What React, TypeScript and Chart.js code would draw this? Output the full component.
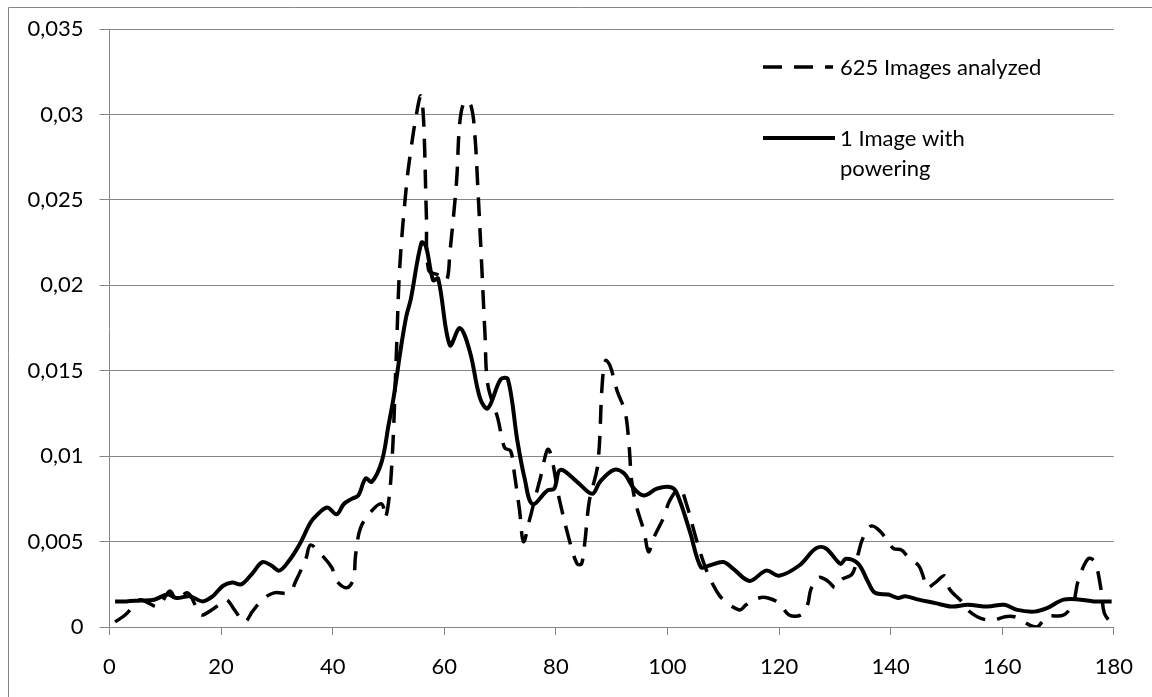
import React, { useEffect, useRef } from "react";
import { Chart, registerables } from "chart.js";

Chart.register(...registerables);

// ---- Data ----
const seriesNames = ["625 Images analyzed", "1 Image with", "powering"];

const dashedX = [
  1, 2.8, 4.5, 5.5, 7, 8.7, 10.8, 12, 14, 15.5, 16.5, 18.3, 20, 21, 22.4, 24.2, 25.6, 27.4, 29.5, 32.2,
  33.4, 35.2, 36, 37.5, 39.8, 40.7, 42.5, 43.7, 44.1, 45, 47, 48.8, 49.5, 50.5, 51.4, 52, 53.2, 54, 55,
  55.8, 56.3, 56.8, 57.2, 59, 60.4, 61, 62.2, 62.8, 63.7, 64.8, 65.5, 66, 66.6, 67.3, 67.8, 69.6, 70.8,
  71.9, 72.6, 73.5, 74.2, 75.3, 77.2, 78.7, 80.6, 82.4, 83.8, 84.6, 85.2, 86, 87.5, 88.3, 88.9, 89.7,
  91, 92.4, 93.1, 93.6, 94.5, 95.8, 96.6, 97.5, 99.3, 100.4, 102.2, 103.4, 105.2, 107, 108.8, 110,
  112.9, 114.1, 116.4, 118, 120, 121.8, 123.9, 125.1, 125.7, 127.1, 128.7, 130.1, 131.3, 133.1, 134.2,
  134.9, 136.4, 137.8, 139.6, 140.5, 142, 143.1, 145, 145.8, 146.5, 148, 149.7, 150.6, 152.7, 153.8,
  155.5, 157.4, 158.6, 160.5, 162.2, 163.4, 165, 166.3, 168, 171, 172.7, 173.6, 175.4, 176.6, 177.7,
  178.3, 179.6,
];
const dashedY = [
  0.0003, 0.0007, 0.0013, 0.0016, 0.0014, 0.0012, 0.0021, 0.0016, 0.002, 0.0012, 0.0007, 0.001, 0.0014,
  0.0016, 0.001, 0.0003, 0.0009, 0.0016, 0.002, 0.002, 0.0027, 0.004, 0.0048, 0.0044, 0.0035, 0.0027,
  0.0023, 0.0028, 0.0042, 0.0058, 0.0068, 0.0072, 0.0064, 0.009, 0.0159, 0.021, 0.0258, 0.0279, 0.03,
  0.0311, 0.0296, 0.024, 0.0209, 0.0206, 0.0203, 0.0219, 0.0261, 0.0296, 0.0308, 0.0305, 0.0287,
  0.0258, 0.0219, 0.0171, 0.0142, 0.0122, 0.0105, 0.0103, 0.0089, 0.0068, 0.005, 0.0063, 0.0087,
  0.0104, 0.0075, 0.0051, 0.0037, 0.0037, 0.005, 0.0074, 0.0095, 0.0142, 0.0156, 0.0153, 0.0138,
  0.0126, 0.0107, 0.0085, 0.007, 0.0056, 0.0044, 0.0052, 0.0064, 0.0074, 0.0081, 0.0072, 0.0051,
  0.0033, 0.0021, 0.0016, 0.001, 0.0013, 0.0017, 0.0017, 0.0014, 0.0007, 0.0007, 0.0013, 0.0022,
  0.0029, 0.0027, 0.0023, 0.0028, 0.0031, 0.0043, 0.0051, 0.0059, 0.0057, 0.005, 0.0046, 0.0045,
  0.0041, 0.0036, 0.003, 0.0023, 0.0026, 0.003, 0.0022, 0.0015, 0.001, 0.0006, 0.0004, 0.0004,
  0.0006, 0.0006, 0.0004, 0.0001, 0.0, 0.0006, 0.0007, 0.0014, 0.0027, 0.004, 0.0038, 0.0022,
  0.0008, 0.0002,
];

const solidX = [
  1, 3, 5.5, 8, 10.4, 12, 14.4, 16.7, 18.5, 20.3, 22, 23.6, 25.5, 27.4, 29, 30.4, 32, 34, 36, 37, 39,
  40.7, 42, 43.4, 44.6, 45.9, 47, 48.8, 50, 50.9, 52.3, 53.2, 54, 55.9, 56.7, 58, 58.9, 61, 62.8, 64.6,
  66.4, 67.8, 70.1, 71.4, 73.1, 74.4, 75.8, 78.5, 79.7, 80.8, 83.8, 86.5, 87.9, 90.4, 92.2, 94, 95.8,
  98.1, 100.4, 101.6, 104, 106, 107.5, 110, 111.8, 114.7, 117.7, 120, 123.6, 126.6, 128.4, 131, 132,
  134.2, 136, 137.2, 139.6, 141.3, 142.6, 145, 148, 150.9, 153.8, 157.4, 160.4, 162.7, 165.7, 168,
  171, 174, 176.4, 179.6,
];
const solidY = [
  0.0015, 0.0015, 0.00155, 0.0016, 0.0019, 0.0017, 0.0018, 0.0015, 0.0018, 0.0024, 0.0026, 0.0025,
  0.0031, 0.0038, 0.0036, 0.0033, 0.0038, 0.0048, 0.0061, 0.0065, 0.007, 0.0066, 0.0072, 0.0075,
  0.0077, 0.0087, 0.0085, 0.0097, 0.0118, 0.0134, 0.0165, 0.0182, 0.0192, 0.0225, 0.0223, 0.0203,
  0.0204, 0.0165, 0.0175, 0.0161, 0.0134, 0.0128, 0.0145, 0.0145, 0.0109, 0.0087, 0.0072, 0.008,
  0.0081, 0.0092, 0.0085, 0.0078, 0.0085, 0.0092, 0.009, 0.0081, 0.0077, 0.0081, 0.0082, 0.0079,
  0.0056, 0.0035, 0.0036, 0.0038, 0.0034, 0.0027, 0.0033, 0.003, 0.0036, 0.0046, 0.0046, 0.0037,
  0.004, 0.0037, 0.0026, 0.002, 0.0019, 0.0017, 0.0018, 0.0016, 0.0014, 0.0012, 0.0013, 0.0012,
  0.0013, 0.001, 0.0009, 0.0011, 0.0016, 0.0016, 0.0015, 0.0015,
];

const xTickValues = [0, 20, 40, 60, 80, 100, 120, 140, 160, 180];
const yTickValues = [0, 0.005, 0.01, 0.015, 0.02, 0.025, 0.03, 0.035];
const yTickLabels = ["0", "0,005", "0,01", "0,015", "0,02", "0,025", "0,03", "0,035"];

const FONT = "Lato";
const GRID = "#868686";

const framePlugin = {
  id: "frame",
  beforeDraw(chart: any) {
    const ctx = chart.ctx;
    ctx.save();
    ctx.strokeStyle = GRID;
    ctx.lineWidth = 1;
    ctx.beginPath();
    ctx.moveTo(8.5, chart.height);
    ctx.lineTo(8.5, 7.5);
    ctx.lineTo(chart.width, 7.5);
    ctx.stroke();
    ctx.restore();
  },
};

const legendPlugin = {
  id: "customLegend",
  afterDraw(chart: any) {
    const ctx = chart.ctx;
    const ds = chart.data.datasets;
    ctx.save();
    // dashed entry
    ctx.strokeStyle = "#000";
    ctx.lineWidth = ds[0].borderWidth;
    ctx.setLineDash(ds[0].borderDash);
    ctx.beginPath();
    ctx.moveTo(763, 67);
    ctx.lineTo(833, 67);
    ctx.stroke();
    // solid entry
    ctx.setLineDash([]);
    ctx.lineWidth = ds[1].borderWidth;
    ctx.beginPath();
    ctx.moveTo(763, 138);
    ctx.lineTo(835, 138);
    ctx.stroke();
    ctx.fillStyle = "#000";
    ctx.font = `22px ${FONT}`;
    ctx.textBaseline = "middle";
    ctx.textAlign = "left";
    ctx.fillText(seriesNames[0], 840, 68);
    ctx.fillText(seriesNames[1], 840, 139);
    ctx.fillText(seriesNames[2], 840, 169);
    ctx.restore();
  },
};

export default function App() {
  const ref = useRef<HTMLCanvasElement | null>(null);

  useEffect(() => {
    if (!ref.current) return;
    const chart = new Chart(ref.current, {
      type: "line",
      data: {
        datasets: [
          {
            label: seriesNames[0],
            data: dashedX.map((x, i) => ({ x, y: dashedY[i] })),
            borderColor: "#000",
            borderWidth: 3.5,
            borderDash: [19, 12],
            pointRadius: 0,
            tension: 0.35,
            fill: false,
          },
          {
            label: seriesNames[1] + " " + seriesNames[2],
            data: solidX.map((x, i) => ({ x, y: solidY[i] })),
            borderColor: "#000",
            borderWidth: 4,
            pointRadius: 0,
            tension: 0.35,
            fill: false,
          },
        ],
      },
      options: {
        responsive: false,
        animation: false,
        layout: { padding: { left: 0, top: 24, right: 33, bottom: 0 } },
        plugins: {
          legend: { display: false },
          tooltip: { enabled: false },
          title: { display: false },
        },
        scales: {
          x: {
            type: "linear",
            min: 0,
            max: 180,
            afterBuildTicks: (axis: any) => {
              axis.ticks = xTickValues.map((v) => ({ value: v }));
            },
            afterFit: (scale: any) => {
              scale.height = 70;
            },
            ticks: {
              color: "#000",
              font: { family: FONT, size: 22 },
              padding: 19,
              maxRotation: 0,
              autoSkip: false,
              callback: (v: any) => String(v),
            },
            grid: {
              drawOnChartArea: false,
              drawTicks: true,
              tickLength: 8,
              color: GRID,
            },
            border: { display: true, color: GRID, width: 1 },
          },
          y: {
            type: "linear",
            min: 0,
            max: 0.035,
            afterBuildTicks: (axis: any) => {
              axis.ticks = yTickValues.map((v) => ({ value: v }));
            },
            afterFit: (scale: any) => {
              scale.width = 109.5;
            },
            ticks: {
              color: "#000",
              font: { family: FONT, size: 22 },
              padding: 16,
              autoSkip: false,
              callback: (v: any) => {
                const i = yTickValues.findIndex((t) => Math.abs(t - v) < 1e-9);
                return i >= 0 ? yTickLabels[i] : "";
              },
            },
            grid: {
              drawOnChartArea: true,
              drawTicks: true,
              tickLength: 10,
              color: GRID,
            },
            border: { display: true, color: GRID, width: 1 },
          },
        },
      },
      plugins: [framePlugin, legendPlugin],
    });
    return () => chart.destroy();
  }, []);

  return (
    <div style={{ position: "fixed", left: 0, top: 0, width: 1152, height: 697, background: "#fff" }}>
      <canvas ref={ref} width={1152} height={697} />
    </div>
  );
}
